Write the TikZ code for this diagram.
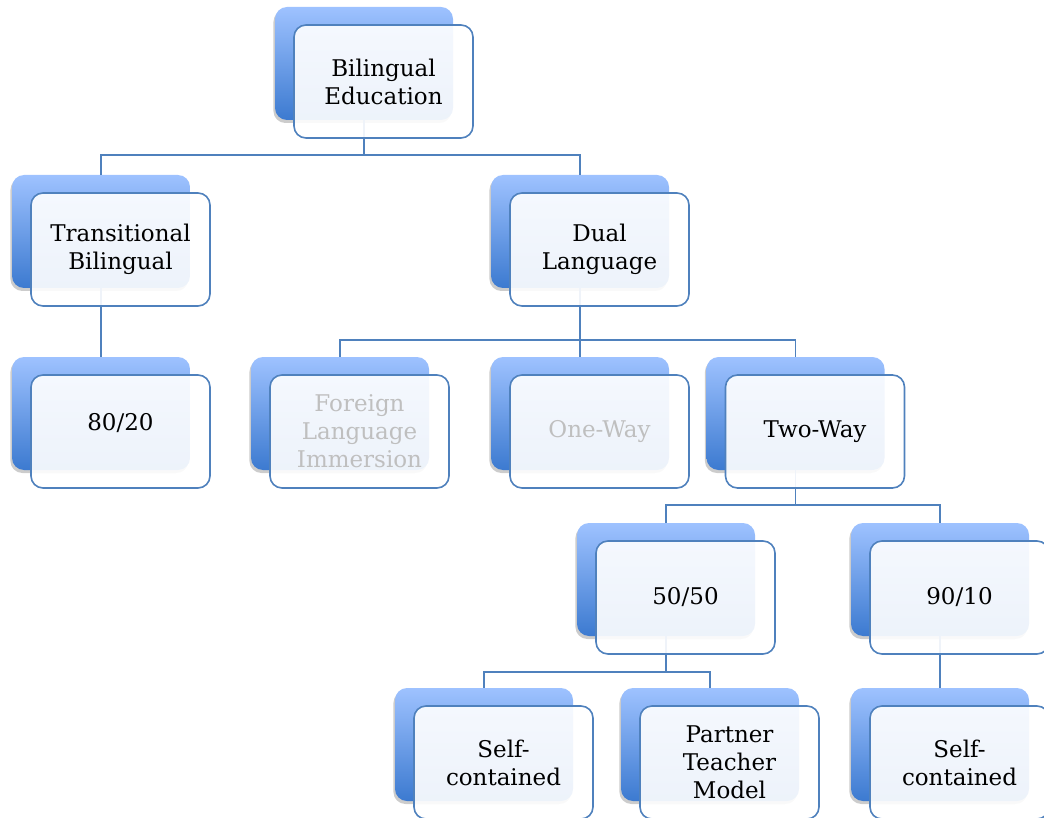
\documentclass[tikz,border=0pt]{standalone}
\usepackage{fontspec}
\setmainfont{DejaVu Serif}
\usetikzlibrary{positioning,shadows}

\definecolor{boxtop}{RGB}{158,194,255}
\definecolor{boxbottom}{RGB}{60,122,208}
\definecolor{linkblue}{RGB}{79,129,189}
\definecolor{faded}{RGB}{191,191,191}

\begin{document}
\begin{tikzpicture}[x=0.5pt, y=-0.5pt,
    backbox/.style={rounded corners=6pt, minimum width=89pt, minimum height=56.5pt, outer sep=0pt,
      top color=boxtop, bottom color=boxbottom,
      drop shadow={shadow xshift=-0.8pt, shadow yshift=-1.5pt, opacity=0.2, fill=black}},
    frontbox/.style={rounded corners=6pt, minimum width=89.5pt, minimum height=56.5pt, outer sep=0pt,
      draw=linkblue, line width=0.8pt, fill=white, fill opacity=0.91, text opacity=1,
      align=center, font=\fontsize{11.5}{14}\selectfont},
    link/.style={draw=linkblue, line width=0.75pt}]

  \useasboundingbox (0,0) rectangle (1044,818);

  % back boxes
  \node[backbox] (edu-b)     at (364,63.5) {};
  \node[backbox] (trans-b)   at (101,231.5) {};
  \node[backbox] (dual-b)    at (580,231.5) {};
  \node[backbox] (eighty-b)  at (101,413.5) {};
  \node[backbox] (foreign-b) at (340,413.5) {};
  \node[backbox] (oneway-b)  at (580,413.5) {};
  \node[backbox] (twoway-b)  at (795.5,413.5) {};
  \node[backbox] (fifty-b)   at (666,579.5) {};
  \node[backbox] (ninety-b)  at (940,579.5) {};
  \node[backbox] (selfa-b)   at (484,744.5) {};
  \node[backbox] (partner-b) at (710,744.5) {};
  \node[backbox] (selfb-b)   at (940,744.5) {};

  % connectors
  \draw[link] (edu-b.south) -- +(0,35) -| (trans-b.north);
  \draw[link] (edu-b.south) -- +(0,35) -| (dual-b.north);
  \draw[link] (trans-b.south) -- (eighty-b.north);
  \draw[link] (dual-b.south) -- +(0,52) -| (foreign-b.north);
  \draw[link] (dual-b.south) -- (oneway-b.north);
  \draw[link] (dual-b.south) -- +(0,52) -| (twoway-b.north);
  \draw[link] (twoway-b.south) -- +(0,35) -| (fifty-b.north);
  \draw[link] (twoway-b.south) -- +(0,35) -| (ninety-b.north);
  \draw[link] (fifty-b.south) -- +(0,36) -| (selfa-b.north);
  \draw[link] (fifty-b.south) -- +(0,36) -| (partner-b.north);
  \draw[link] (ninety-b.south) -- (selfb-b.north);

  % front boxes
  \node[frontbox] (edu)     at ([shift={(19.5,18)}]edu-b) {Bilingual\\Education};
  \node[frontbox] (trans)   at ([shift={(19.5,18)}]trans-b) {Transitional\\Bilingual};
  \node[frontbox] (dual)    at ([shift={(19.5,18)}]dual-b) {Dual\\Language};
  \node[frontbox] (eighty)  at ([shift={(19.5,18)}]eighty-b) {\raisebox{10pt}{80/20}};
  \node[frontbox, text=faded] (foreign) at ([shift={(19.5,18)}]foreign-b) {Foreign\\Language\\Immersion};
  \node[frontbox, text=faded] (oneway)  at ([shift={(19.5,18)}]oneway-b) {One-Way};
  \node[frontbox] (twoway)  at ([shift={(19.5,18)}]twoway-b) {Two-Way};
  \node[frontbox] (fifty)   at ([shift={(19.5,18)}]fifty-b) {50/50};
  \node[frontbox] (ninety)  at ([shift={(19.5,18)}]ninety-b) {90/10};
  \node[frontbox] (selfa)   at ([shift={(19.5,18)}]selfa-b) {Self-\\contained};
  \node[frontbox] (partner) at ([shift={(19.5,18)}]partner-b) {Partner\\Teacher\\Model};
  \node[frontbox] (selfb)   at ([shift={(19.5,18)}]selfb-b) {Self-\\contained};
\end{tikzpicture}
\end{document}
